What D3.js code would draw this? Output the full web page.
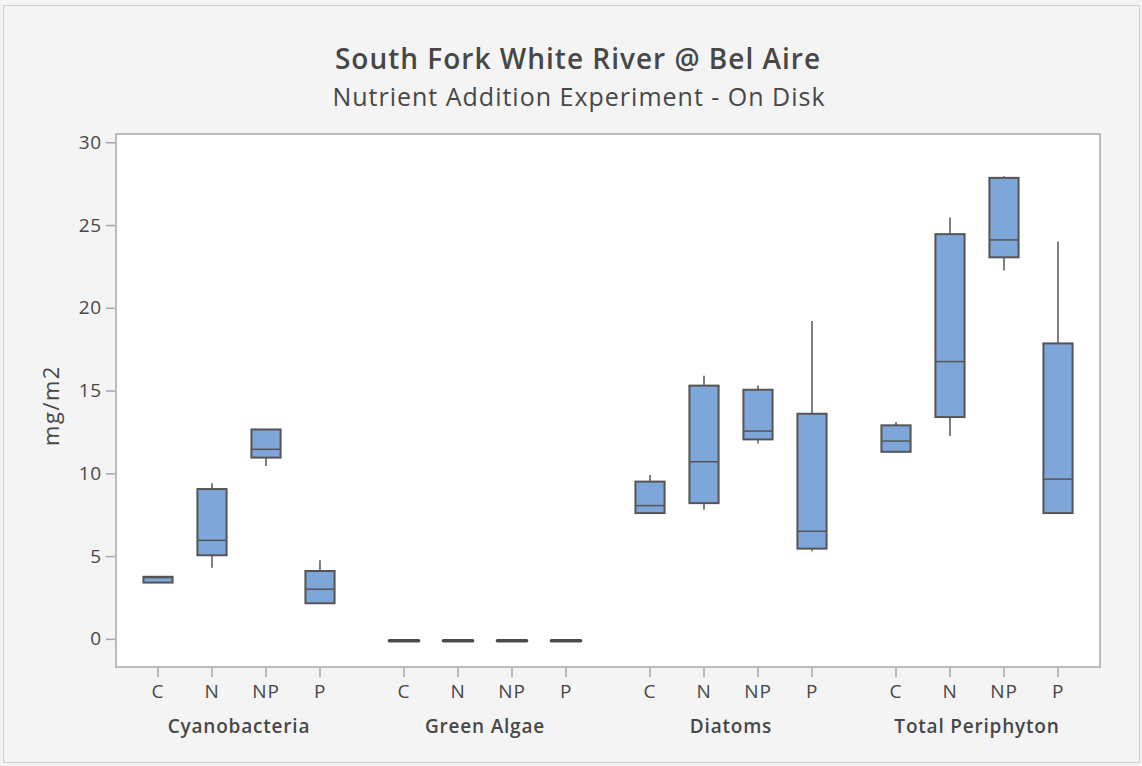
<!DOCTYPE html>
<html>
<head>
<meta charset="utf-8">
<script src="https://cdn.jsdelivr.net/npm/d3@7"></script>
<style>
  body { margin: 0; background: #fff; }
  svg { display: block; font-family: "Open Sans", "Noto Sans", sans-serif; }
</style>
</head>
<body>
<svg id="chart" width="1142" height="766"></svg>
<script>
// Chlorophyll a on disk, by taxon group and nutrient treatment

const groups = ['Cyanobacteria', 'Green Algae', 'Diatoms', 'Total Periphyton'];
const treatments = ['C', 'N', 'NP', 'P'];

// box stats per group, in treatment order: [whiskerLow, q1, median, q3, whiskerHigh]
const cyanoStats = [
    [3.4, 3.4, 3.7, 3.75, 3.75],
    [4.3, 5.05, 5.95, 9.05, 9.4],
    [10.45, 10.95, 11.45, 12.65, 12.65],
    [2.15, 2.15, 3.0, 4.1, 4.75]
];
const greenStats = [
    [-0.12, -0.12, -0.12, -0.12, -0.12],
    [-0.12, -0.12, -0.12, -0.12, -0.12],
    [-0.12, -0.12, -0.12, -0.12, -0.12],
    [-0.12, -0.12, -0.12, -0.12, -0.12]
];
const diatomStats = [
    [7.6, 7.6, 8.05, 9.5, 9.9],
    [7.8, 8.2, 10.7, 15.3, 15.9],
    [11.8, 12.05, 12.55, 15.05, 15.3],
    [5.3, 5.45, 6.5, 13.6, 19.2]
];
const totalStats = [
    [11.3, 11.3, 11.95, 12.9, 13.1],
    [12.25, 13.4, 16.75, 24.45, 25.45],
    [22.25, 23.05, 24.1, 27.85, 27.95],
    [7.6, 7.6, 9.65, 17.85, 24.0]
];
const statsByGroup = [cyanoStats, greenStats, diatomStats, totalStats];

const yTicks = [0, 5, 10, 15, 20, 25, 30];

const titleText = 'South Fork White River @ Bel Aire';
const subtitleText = 'Nutrient Addition Experiment - On Disk';
const yLabel = 'mg/m2';

/* Build rows */

let boxes = [];
statsByGroup.forEach((groupStats, gi) => {
    groupStats.forEach((s, ti) => {
        boxes.push({
            group: groups[gi], treatment: treatments[ti],
            lo: s[0], q1: s[1], med: s[2], q3: s[3], hi: s[4]
        });
    });
});

/* Layout */

const svg = d3.select('#chart');
const plot = { left: 116, right: 1100, top: 134, bottom: 667 };
const font = '"Open Sans", "Noto Sans", sans-serif';
const ink = '#474747';

svg.append('rect')
   .attr('x', 0).attr('y', 0).attr('width', 1142).attr('height', 766)
   .attr('fill', '#f4f4f4');
svg.append('rect')
   .attr('x', 3.5).attr('y', 5.5).attr('width', 1136).attr('height', 757)
   .attr('fill', 'none').attr('stroke', '#d0d0d0');

svg.append('rect')
   .attr('x', plot.left).attr('y', plot.top)
   .attr('width', plot.right - plot.left).attr('height', plot.bottom - plot.top)
   .attr('fill', '#ffffff').attr('stroke', '#a8a8a8').attr('stroke-width', 1.5);

/* Scales */

const xGroup = d3.scaleBand()
                 .domain(groups)
                 .range([plot.left, plot.right])
                 .paddingInner(0.122)
                 .paddingOuter(0.061);

const xInner = d3.scaleBand()
                 .domain(treatments)
                 .range([0, xGroup.bandwidth()])
                 .paddingInner(0.46)
                 .paddingOuter(0.23);

const yScale = d3.scaleLinear()
                 .domain([-1.7, 30.5])
                 .range([plot.bottom, plot.top]);

const xCenter = d => xGroup(d.group) + xInner(d.treatment) + xInner.bandwidth() / 2;

/* Axes */

const yAxis = d3.axisLeft(yScale).tickValues(yTicks).tickSize(9).tickPadding(4);
const gy = svg.append('g')
              .attr('transform', `translate(${plot.left - 1}, 0)`)
              .call(yAxis);
gy.attr('font-family', font);
gy.select('.domain').remove();
gy.selectAll('line').attr('stroke', '#a8a8a8').attr('stroke-width', 1.5);
gy.selectAll('text')
  .attr('fill', ink)
  .style('font-size', '19px')
  .style('letter-spacing', '0.8px');

groups.forEach(g => {
    const ax = d3.axisBottom(xInner).tickSize(9).tickPadding(8);
    const gx = svg.append('g')
                  .attr('transform', `translate(${xGroup(g)}, ${plot.bottom + 1})`)
                  .call(ax);
    gx.attr('font-family', font);
    gx.select('.domain').remove();
    gx.selectAll('line').attr('stroke', '#a8a8a8').attr('stroke-width', 1.5);
    gx.selectAll('text')
      .attr('fill', ink)
      .style('font-size', '19px')
      .style('letter-spacing', '0.8px');

    svg.append('text')
       .attr('x', xGroup(g) + xGroup.bandwidth() / 2)
       .attr('y', 733)
       .attr('text-anchor', 'middle')
       .attr('fill', ink)
       .style('font-size', '19px')
       .style('font-weight', 600)
       .style('letter-spacing', '0.8px')
       .text(g);
});

/* Boxes */

const bw = xInner.bandwidth();
const marks = svg.append('g');

boxes.forEach(d => {
    const cx = xCenter(d);
    const g = marks.append('g');
    if (d.hi > d.q3) {
        g.append('line')
         .attr('x1', cx).attr('x2', cx)
         .attr('y1', yScale(d.q3)).attr('y2', yScale(d.hi))
         .attr('stroke', '#555').attr('stroke-width', 1.5);
    }
    if (d.lo < d.q1) {
        g.append('line')
         .attr('x1', cx).attr('x2', cx)
         .attr('y1', yScale(d.q1)).attr('y2', yScale(d.lo))
         .attr('stroke', '#555').attr('stroke-width', 1.5);
    }
    if (d.q3 > d.q1) {
        g.append('rect')
         .attr('x', cx - bw / 2)
         .attr('y', yScale(d.q3))
         .attr('width', bw)
         .attr('height', yScale(d.q1) - yScale(d.q3))
         .attr('fill', '#7ea6d9')
         .attr('stroke', '#555')
         .attr('stroke-width', 2);
        g.append('line')
         .attr('x1', cx - bw / 2).attr('x2', cx + bw / 2)
         .attr('y1', yScale(d.med)).attr('y2', yScale(d.med))
         .attr('stroke', '#555').attr('stroke-width', 1.5);
    } else {
        // collapsed box: all quartiles equal, drawn as a heavy dash
        g.append('line')
         .attr('x1', cx - bw / 2).attr('x2', cx + bw / 2)
         .attr('y1', yScale(d.med)).attr('y2', yScale(d.med))
         .attr('stroke', '#4a4a4a').attr('stroke-width', 3.5)
         .attr('stroke-linecap', 'round');
    }
});

/* Titles */

svg.append('text')
   .attr('x', 578).attr('y', 69)
   .attr('text-anchor', 'middle')
   .attr('fill', ink)
   .style('font-size', '28px')
   .style('font-weight', 600)
   .style('letter-spacing', '1px')
   .text(titleText);

svg.append('text')
   .attr('x', 579).attr('y', 106)
   .attr('text-anchor', 'middle')
   .attr('fill', ink)
   .style('font-size', '25px')
   .style('letter-spacing', '1px')
   .text(subtitleText);

svg.append('text')
   .attr('transform', `translate(59, ${(plot.top + plot.bottom) / 2 + 5}) rotate(-90)`)
   .attr('text-anchor', 'middle')
   .attr('fill', ink)
   .style('font-size', '22px')
   .style('letter-spacing', '1.5px')
   .text(yLabel);
</script>
</body>
</html>
